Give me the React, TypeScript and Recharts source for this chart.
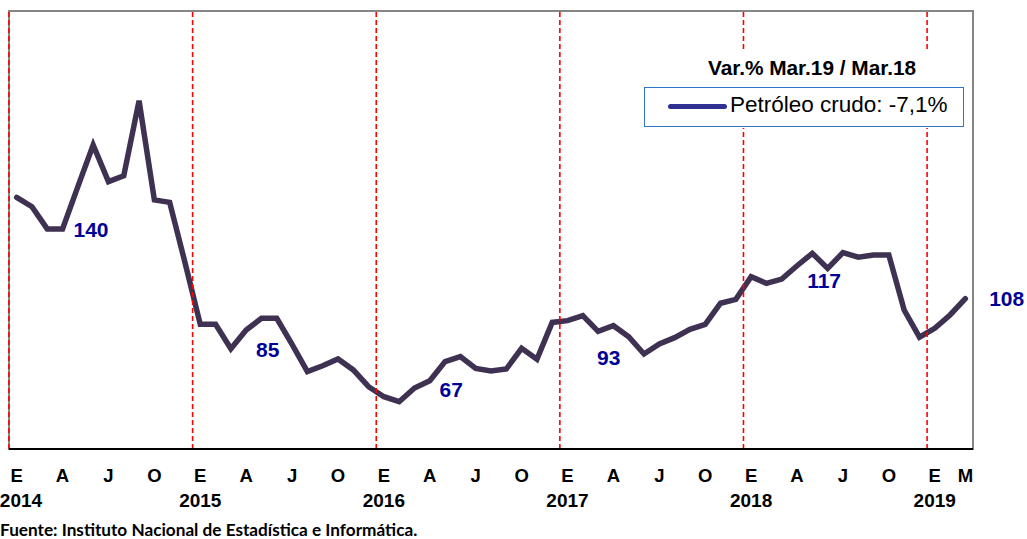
import React from 'react';
import { LineChart, Line, XAxis, YAxis, ReferenceLine, ReferenceArea, Legend } from 'recharts';

// Meses (inicial en español) y años
const MONTH_LETTERS = ['E', 'F', 'M', 'A', 'M', 'J', 'J', 'A', 'S', 'O', 'N', 'D'];
const START_YEAR = 2014;

// Índice de producción de petróleo crudo, Ene 2014 - Mar 2019
const CRUDE_VALUES = [
  154.5, 150.2, 140.0, 140.0, 159.4, 178.5, 161.7, 164.4, 198.8, 153.3, 152.2, 124.6,
  96.2, 96.2, 85.0, 93.6, 99.0, 99.0, 87.0, 74.5, 77.2, 80.3, 75.3, 67.6,
  63.0, 60.7, 67.0, 70.3, 79.1, 81.4, 76.0, 74.8, 75.7, 85.2, 80.2, 97.1,
  97.9, 100.2, 93.0, 95.6, 90.5, 82.6, 87.2, 90.1, 93.9, 96.2, 105.9, 107.7,
  118.1, 115.0, 117.0, 123.1, 128.8, 121.9, 129.1, 127.0, 128.0, 128.0, 102.8, 90.3,
  94.4, 100.5, 108.0,
];

// Valores de marzo rotulados en el gráfico
const MARCH_LABELS = ['140', '85', '67', '93', '117', '108'];

const LEGEND_TITLE = 'Var.% Mar.19 / Mar.18';
const LEGEND_TEXT = 'Petróleo crudo: -7,1%';
const SOURCE_TEXT = 'Fuente: Instituto Nacional de Estadística e Informática.';

const data = CRUDE_VALUES.map((v, i) => ({
  i,
  v,
  month: MONTH_LETTERS[i % 12],
  year: START_YEAR + Math.floor(i / 12),
  lab: i % 12 === 2 ? MARCH_LABELS[Math.floor(i / 12)] : null,
}));

const lastIndex = data.length - 1;
const tickIdx = data.filter((d) => d.i % 3 === 0 || d.i === lastIndex).map((d) => d.i);
const yearBoundaries = data.filter((d) => d.i % 12 === 0).map((d) => d.i - 0.5);

const LABEL_OFFSETS: Record<string, [number, number]> = {
  '140': [43.8, 0.3],
  '85': [36.9, 0.4],
  '67': [36.8, 1.5],
  '93': [10.6, 26.5],
  '117': [42.4, 1.5],
  '108': [41.3, -0.4],
};

const FONT = '"Liberation Sans", Arial, sans-serif';

const MonthTick = (props: any) => {
  const { x, y, payload } = props;
  const d = data[payload.value];
  if (!d) return <g />;
  return (
    <g>
      <text x={x} y={y + 32.5} textAnchor="middle" fontFamily={FONT} fontWeight="bold" fontSize={18.5} fill="#000">
        {d.month}
      </text>
      {d.i % 12 === 0 ? (
        <text x={Math.max(x, 21)} y={y + 57.5} textAnchor="middle" fontFamily={FONT} fontWeight="bold" fontSize={19} fill="#000">
          {d.year}
        </text>
      ) : null}
    </g>
  );
};

const LabelDot = (props: any) => {
  const { cx, cy, payload, index } = props;
  if (!payload || !payload.lab) return <g key={`d-${index}`} />;
  const off = LABEL_OFFSETS[payload.lab] || [0, 0];
  return (
    <text
      key={`d-${index}`}
      x={cx + off[0]}
      y={cy + off[1] + 7.5}
      textAnchor="middle"
      fontFamily={FONT}
      fontWeight="bold"
      fontSize={21}
      fill="#000099"
    >
      {payload.lab}
    </text>
  );
};

const LegendBox = () => (
  <div style={{ position: 'relative', width: 321, height: 78, fontFamily: FONT }}>
    <div style={{ position: 'absolute', left: 0, top: 0, width: 321, height: 78, background: '#fff' }} />
    <div
      style={{
        position: 'absolute',
        left: 0,
        top: 7.8,
        width: 321,
        paddingLeft: 15,
        boxSizing: 'border-box',
        textAlign: 'center',
        fontWeight: 'bold',
        fontSize: 20.8,
        lineHeight: '20.8px',
        color: '#000',
        whiteSpace: 'nowrap',
      }}
    >
      {LEGEND_TITLE}
    </div>
    <div
      style={{
        position: 'absolute',
        left: 0,
        top: 36.7,
        width: 320,
        height: 40.3,
        border: '1.5px solid #2F77C4',
        boxSizing: 'border-box',
        background: '#fff',
      }}
    />
    <div
      style={{
        position: 'absolute',
        left: 24,
        top: 54.2,
        width: 59,
        height: 5,
        borderRadius: 3,
        background: '#2E3192',
      }}
    />
    <div
      style={{
        position: 'absolute',
        left: 86,
        top: 44.1,
        fontSize: 22.5,
        lineHeight: '22.5px',
        color: '#000',
        whiteSpace: 'nowrap',
      }}
    >
      {LEGEND_TEXT}
    </div>
  </div>
);

export default function App() {
  return (
    <div style={{ position: 'absolute', left: 0, top: 0, width: 1027, height: 539, background: '#fff', overflow: 'hidden' }}>
      <LineChart width={1027} height={539} data={data} margin={{ top: 11, right: 54, bottom: 0, left: 9 }}>
        <XAxis
          dataKey="i"
          type="number"
          domain={[-0.5, lastIndex + 0.5]}
          ticks={tickIdx}
          interval={0}
          height={90}
          tickSize={0}
          tickMargin={0}
          tickLine={false}
          axisLine={{ stroke: '#000', strokeWidth: 2 }}
          tick={<MonthTick />}
        />
        <YAxis type="number" domain={[39, 240]} hide />
        <ReferenceArea x1={-0.5} x2={lastIndex + 0.5} y1={39} y2={240} fill="none" stroke="#868686" strokeWidth={2} />
        <Line
          type="linear"
          dataKey="v"
          stroke="#3F3151"
          strokeWidth={5.5}
          strokeLinecap="round"
          dot={<LabelDot />}
          activeDot={false}
          isAnimationActive={false}
          legendType="none"
        />
        {yearBoundaries.map((b) => (
          <ReferenceLine key={b} x={b} stroke="#FF0000" strokeWidth={1.6} strokeDasharray="5 3" />
        ))}
        <Legend
          layout="vertical"
          align="center"
          verticalAlign="middle"
          content={() => <LegendBox />}
          wrapperStyle={{ position: 'absolute', left: 644, top: 50, width: 321, height: 78 }}
        />
      </LineChart>
      <div
        style={{
          position: 'absolute',
          left: 0,
          top: 520.5,
          fontFamily: 'Lato, sans-serif',
          fontWeight: 700,
          fontSize: 17.2,
          lineHeight: '17.2px',
          color: '#000',
          whiteSpace: 'nowrap',
        }}
      >
        {SOURCE_TEXT}
      </div>
    </div>
  );
}
